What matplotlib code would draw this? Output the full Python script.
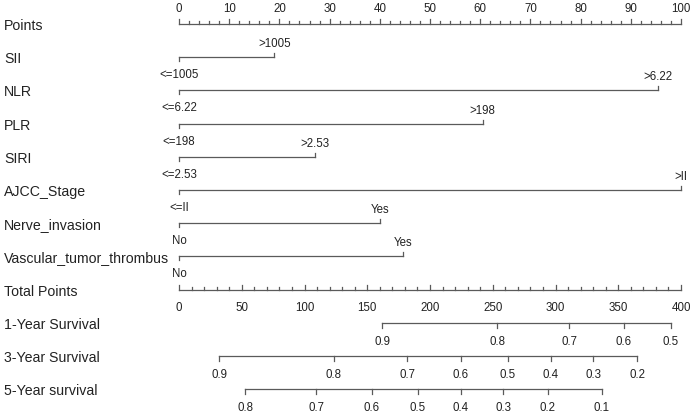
import numpy as np
import matplotlib
matplotlib.use("Agg")
from matplotlib import pyplot as plt

plt.rcParams['font.family'] = ['Liberation Sans', 'DejaVu Sans']

# dados do nomograma
variaveis = ["SII", "NLR", "PLR", "SIRI", "AJCC_Stage", "Nerve_invasion", "Vascular_tumor_thrombus"]
rotulos_baixo = ["<=1005", "<=6.22", "<=198", "<=2.53", "<=II", "No", "No"]
rotulos_alto = [">1005", ">6.22", ">198", ">2.53", ">II", "Yes", "Yes"]
pontos_alto = [19, 95.5, 60.5, 27, 100, 40, 44.6]

pontos_ticks = np.arange(0, 101, 10)
total_ticks = np.arange(0, 401, 50)

# escalas de sobrevida (posição em pontos totais)
surv_1_labels = ["0.9", "0.8", "0.7", "0.6", "0.5"]
surv_1_total = [161.8, 253.4, 310.8, 354.6, 392]
surv_3_labels = ["0.9", "0.8", "0.7", "0.6", "0.5", "0.4", "0.3", "0.2"]
surv_3_total = [31.9, 123.5, 181.7, 224.7, 262, 296.4, 329.9, 365]
surv_5_labels = ["0.8", "0.7", "0.6", "0.5", "0.4", "0.3", "0.2", "0.1"]
surv_5_total = [52.6, 109.2, 153.8, 190.4, 224.7, 258.2, 294, 337]

nomes = ["Points"] + variaveis + ["Total Points", "1-Year Survival", "3-Year Survival", "5-Year survival"]

cor = "#5a5a5a"
txt = "#222222"
fs_nome = 10.2
fs_tick = 8.3
lw = 0.9

fig = plt.figure(figsize=(6.97, 4.14), dpi=100)
ax = fig.add_axes([0, 0, 1, 1])
px = 5.02  # pixels por ponto
ax.set_xlim(-179 / px, (697 - 179) / px)
ax.set_ylim(414, 0)
ax.axis("off")

linhas = 25 + 33.2 * np.arange(len(nomes))
for nome, y in zip(nomes, linhas):
    ax.text(-175 / px, y + 1, nome, fontsize=fs_nome, color=txt, va="center", ha="left")

# Points
y = linhas[0]
ax.plot([0, 100], [y, y], color=cor, lw=lw)
for t in np.arange(0, 101, 2):
    h = 5 if t % 10 == 0 else 3
    ax.plot([t, t], [y, y - h], color=cor, lw=lw)
for t in pontos_ticks:
    ax.text(t, y - 16, str(t), fontsize=fs_tick, color=txt, ha="center", va="center")

# variáveis
for i in range(len(variaveis)):
    y = linhas[i + 1]
    p = pontos_alto[i]
    ax.plot([0, p], [y, y], color=cor, lw=lw)
    ax.plot([0, 0], [y, y + 4], color=cor, lw=lw)
    ax.plot([p, p], [y, y - 4], color=cor, lw=lw)
    ax.text(0, y + 17, rotulos_baixo[i], fontsize=fs_tick, color=txt, ha="center", va="center")
    ax.text(p, y - 14, rotulos_alto[i], fontsize=fs_tick, color=txt, ha="center", va="center")

# Total Points
y = linhas[8]
ax.plot([0, 100], [y, y], color=cor, lw=lw)
for t in np.arange(0, 401, 10):
    h = 5 if t % 50 == 0 else 3
    ax.plot([t / 4, t / 4], [y, y - h], color=cor, lw=lw)
for t in total_ticks:
    ax.text(t / 4, y + 17, str(t), fontsize=fs_tick, color=txt, ha="center", va="center")

# sobrevida
for k, (labs, tot) in enumerate([(surv_1_labels, surv_1_total),
                                 (surv_3_labels, surv_3_total),
                                 (surv_5_labels, surv_5_total)]):
    y = linhas[9 + k]
    xs = np.array(tot) / 4
    ax.plot([xs[0], xs[-1]], [y, y], color=cor, lw=lw)
    for x, l in zip(xs, labs):
        ax.plot([x, x], [y, y + 5], color=cor, lw=lw)
        ax.text(x, y + 18, l, fontsize=fs_tick, color=txt, ha="center", va="center")

fig.savefig("out.png", dpi=100)
